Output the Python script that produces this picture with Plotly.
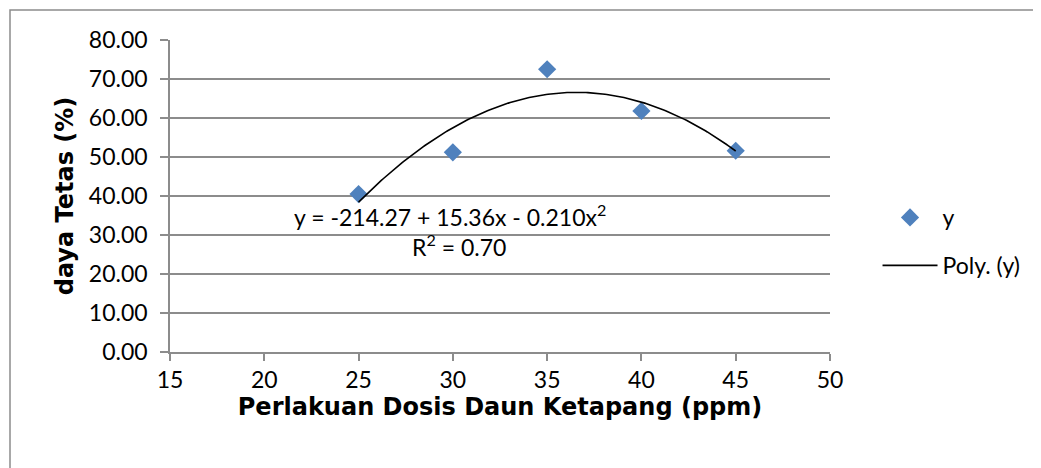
import numpy as np
import plotly.graph_objects as go

# Data
dosis = [25, 30, 35, 40, 45]
daya_tetas = [40.5, 51.2, 72.5, 61.8, 51.6]
x_ticks = [15, 20, 25, 30, 35, 40, 45, 50]
y_ticks = [0, 10, 20, 30, 40, 50, 60, 70, 80]
eq_text = "y = -214.27 + 15.36x - 0.210x<sup>2</sup>"
r2_text = "R<sup>2</sup> = 0.70"

# Polynomial (order 2) trendline fitted from the data, like Excel
coef = np.polyfit(dosis, daya_tetas, 2)
xf = np.linspace(min(dosis), max(dosis), 200)
yf = np.polyval(coef, xf)

GRID = "#8c8c8c"
TXT = "Lato"
TITLE = "DejaVu Sans"
FS = 23

fig = go.Figure()
fig.add_trace(go.Scatter(
    x=dosis, y=daya_tetas, mode="markers", name="y",
    marker=dict(symbol="diamond", size=14, color="#4F81BD"),
    legendgroup="a",
))
fig.add_trace(go.Scatter(
    x=xf, y=yf, mode="lines", name="Poly. (y)",
    line=dict(color="black", width=1.6),
    legendgroup="b",
))

OFF = 8  # page body margin
FW, FH = 1041 - OFF, 468 - OFF
L, T = 170 - OFF, 40 - OFF
W, H = 660, 312
fig.update_layout(
    width=FW, height=FH,
    margin=dict(l=L, r=FW - L - W, t=T, b=FH - T - H),
    paper_bgcolor="white", plot_bgcolor="white",
    font=dict(family=TXT, size=FS, color="black"),
    showlegend=True,
    legend=dict(
        x=1.072, y=0.50, xanchor="left", yanchor="top",
        font=dict(family=TXT, size=FS),
        traceorder="grouped", tracegroupgap=15, itemwidth=55,
        bgcolor="rgba(0,0,0,0)",
    ),
    xaxis=dict(
        range=[15, 50], tickvals=x_ticks, ticktext=[str(v) for v in x_ticks],
        showgrid=False, zeroline=False,
        showline=True, linecolor=GRID, linewidth=1.5,
        ticks="outside", ticklen=7, tickcolor=GRID, tickwidth=1.5,
        tickfont=dict(family=TXT, size=FS),
        title=dict(text="<b>Perlakuan Dosis Daun Ketapang (ppm)</b>",
                   font=dict(family=TITLE, size=24), standoff=4),
    ),
    yaxis=dict(
        range=[0, 80], tickvals=y_ticks, ticktext=[f"{v:.2f}" for v in y_ticks],
        showgrid=True, gridcolor=GRID, gridwidth=1.5, zeroline=False,
        showline=True, linecolor=GRID, linewidth=1.5,
        ticks="outside", ticklen=8, tickcolor=GRID, tickwidth=1.5,
        ticklabelstandoff=8,
        tickfont=dict(family=TXT, size=FS),
        title=dict(text="<b>daya Tetas (%)</b>",
                   font=dict(family=TITLE, size=24), standoff=8),
    ),
)

fig.add_annotation(x=29.85, y=34.9, xref="x", yref="y", text=eq_text,
                   showarrow=False, font=dict(family=TXT, size=FS))
fig.add_annotation(x=30.3, y=27.2, xref="x", yref="y", text=r2_text,
                   showarrow=False, font=dict(family=TXT, size=FS))

# Chart-area border (top/left visible)
def px(xp):
    return (xp - OFF - L) / W
def py(yp):
    return (T + H - (yp - OFF)) / H
fig.add_shape(type="rect", xref="paper", yref="paper",
              x0=px(10), x1=px(1060), y0=py(490), y1=py(10),
              line=dict(color=GRID, width=1.5), fillcolor="rgba(0,0,0,0)",
              layer="below")

fig.write_html("out.html")
